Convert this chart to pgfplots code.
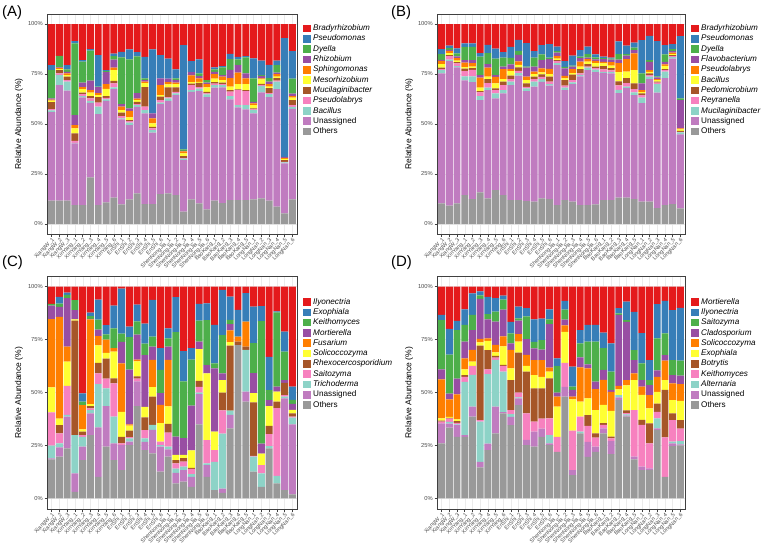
\documentclass[border=0pt]{standalone}
\usepackage{fontspec}
\setmainfont{Liberation Sans}
\usepackage{pgfplots}
\usepackage{pgfplotstable}
\pgfplotsset{compat=1.18}

\definecolor{cR}{HTML}{E41A1C}
\definecolor{cB}{HTML}{377EB8}
\definecolor{cG}{HTML}{4DAF4A}
\definecolor{cP}{HTML}{984EA3}
\definecolor{cO}{HTML}{FF7F00}
\definecolor{cY}{HTML}{FFFF33}
\definecolor{cBr}{HTML}{A65628}
\definecolor{cPk}{HTML}{F781BF}
\definecolor{cT}{HTML}{8DD3C7}
\definecolor{cU}{HTML}{C07CC0}
\definecolor{cOt}{HTML}{999999}

\pgfplotsset{
  samplelabels/.style={xticklabels={XiangW\_1,XiangW\_2,XiangW\_3,XinYang\_1,XinYang\_2,XinYang\_3,XinYang\_4,XinYang\_5,XinYang\_6,EnShi\_1,EnShi\_2,EnShi\_3,EnShi\_4,EnShi\_5,EnShi\_6,ShenNongJia\_1,ShenNongJia\_2,ShenNongJia\_3,ShenNongJia\_4,ShenNongJia\_5,ShenNongJia\_6,BaoKang\_1,BaoKang\_2,BaoKang\_3,BaoKang\_4,BaoKang\_5,LongNan\_1,LongNan\_2,LongNan\_3,LongNan\_4,LongNan\_5,LongNan\_6}},
  bl/.style={fill=#1, draw=none, legend image code/.code={\fill[##1] (0bp,-3.8bp) rectangle (7.8bp,3.8bp);}},
  panel/.style={
    scale only axis,
    ybar stacked, bar width=0.9,
    xmin=0.4, xmax=32.6, ymin=-5, ymax=105,
    xtick={1,...,32}, samplelabels,
    ytick={0,25,50,75,100}, yticklabels={0\%,25\%,50\%,75\%,100\%},
    tick pos=left, tick align=outside, major tick length=2.5bp,
    axis line style={draw=black!75, line width=0.6bp},
    tick style={draw=black!75, line width=0.5bp},
    grid=major, grid style={draw=black!8, line width=0.4bp},
    xticklabel style={rotate=45, anchor=north east, font=\fontsize{5.6}{5.8}\selectfont, text=black!70, inner sep=0.6bp},
    yticklabel style={font=\fontsize{5.8}{6}\selectfont, text=black!70, inner sep=1.5bp},
    ylabel={Relative Abundance (\%)},
    ylabel style={font=\fontsize{8.5}{9}\selectfont},
    legend cell align=left, reverse legend,
    legend image code/.code={\fill[#1] (0bp,-3.8bp) rectangle (7.8bp,3.8bp);},
    legend style={draw=none, fill=none, at={(1,1)}, anchor=north west,
      xshift=5.7bp, yshift=-9.9bp, inner sep=0pt, row sep=1.5bp,
      font=\fontsize{8.2}{9}\selectfont,
      nodes={inner sep=0.5bp, text height=6bp, text depth=1.8bp},
      /tikz/every odd column/.append style={column sep=2bp}},
  }
}

% Panel A: x ot un Bacillus Pseudolabrys Mucilaginibacter Mesorhizobium Sphingomonas Rhizobium Dyella Pseudomonas Bradyrhizobium
\pgfplotstableread{
x ot un g9 g8 g7 g6 g5 g4 g3 g2 g1
1 11.7 44.3 0.8 0.7 3.5 0.7 0.5 0.6 14.2 2.5 20.5
2 11.7 57.8 5.0 0.8 1.7 0.5 0.5 0.3 5.8 0 15.9
3 11.7 55.0 4.5 0.8 1.7 0.8 0.8 0.8 1.2 2.2 20.5
4 9.5 30.8 0.3 1.0 3.7 2.5 1.7 5.0 35.8 1.2 8.5
5 9.5 53.8 0.7 1.0 0.7 1.7 1.0 2.3 10.5 0.8 18.0
6 23.3 37.3 1.0 1.2 1.2 1.7 1.3 4.7 15.0 0.7 12.6
7 9.5 45.5 3.7 2.0 2.7 1.0 1.0 3.0 0.3 15.8 15.5
8 10.8 50.8 0.7 0.8 0.8 3.7 2.3 6.0 0.5 0.5 23.1
9 13.2 54.3 0.8 2.0 1.3 5.3 1.3 4.0 1.7 1.3 14.8
10 9.8 42.5 0.5 1.2 1.7 1.3 1.7 1.3 23.3 2.8 13.9
11 12.3 37.2 1.2 0.8 0.5 1.3 3.3 1.2 24.5 5.0 12.7
12 15.3 43.3 0.8 0.5 1.2 0.8 0.8 2.8 18.3 2.2 14.0
13 10.0 45.3 1.7 1.7 9.7 2.0 0.8 0.8 0.8 10.8 16.4
14 10.0 35.7 1.3 0.8 0.8 1.7 2.5 2.5 0 32.0 12.7
15 14.9 45.0 0.8 1.3 1.7 0.8 5.0 3.3 0 11.7 15.5
16 15.3 46.3 1.2 0.5 5.0 1.5 1.2 1.7 0 10.0 17.3
17 14.5 50.0 0.8 0.8 2.2 1.7 0.7 1.3 0.8 4.5 22.7
18 6.2 25.7 0.8 0.3 1.0 1.3 1.0 0.3 0.7 52.2 10.5
19 12.3 53.8 0.8 2.5 0.8 0.8 3.3 1.7 0 5.5 18.5
20 10.3 56.1 1.3 0.7 2.2 0.5 1.7 1.2 1.3 7.0 17.7
21 7.3 56.2 1.3 0.5 0.8 2.2 1.7 0.7 1.3 0 28.0
22 11.7 56.5 1.2 0.8 0.8 1.7 2.2 1.2 1.2 1.0 21.7
23 10.5 57.8 1.2 0.5 0.7 1.3 1.7 0.8 3.8 0.7 21.0
24 12.0 50.3 1.7 2.2 0.8 1.7 4.2 4.2 5.3 2.7 14.9
25 12.0 46.3 1.2 7.5 0.3 2.7 5.7 3.8 2.8 1.3 16.4
26 12.0 45.3 2.2 7.0 0.5 3.0 2.8 2.5 8.0 0.7 16.0
27 12.3 43.0 1.7 0.3 0.5 1.7 0.8 0.8 11.7 10.0 17.2
28 12.8 53.0 3.3 0.5 0.5 2.2 0.5 1.2 0.5 7.2 18.3
29 11.7 51.7 1.5 0.5 2.5 0.8 1.3 1.2 1.7 6.7 20.4
30 8.7 58.7 3.8 0.5 1.3 0.7 1.3 0.7 3.8 2.2 18.3
31 5.3 25.0 0.5 0.3 0.8 0.7 0.5 0.5 0 59.3 7.1
32 12.3 45.3 1.0 0.8 2.5 1.3 0.7 1.3 7.5 13.8 13.5
}\tabA

% Panel B: x ot un Mucilaginibacter Reyranella Pedomicrobium Bacillus Pseudolabrys Flavobacterium Dyella Pseudomonas Bradyrhizobium
\pgfplotstableread{
x ot un g9 g8 g7 g6 g5 g4 g3 g2 g1
1 10.3 65.0 1.7 0.5 0.7 1.7 1.7 0.5 2.8 2.5 12.6
2 9.2 72.2 0.8 1.7 0.5 1.0 1.2 0.5 0.8 1.3 10.8
3 10.3 68.0 0.7 1.3 0.7 0.7 1.3 0.8 1.5 2.5 12.2
4 14.5 57.3 2.0 2.7 1.2 0.8 2.2 1.2 6.7 1.7 9.7
5 12.5 58.5 2.8 3.3 0.8 0.8 1.7 1.5 6.7 1.7 9.7
6 15.8 46.2 2.0 1.8 0.7 1.7 5.0 1.3 9.2 1.7 14.6
7 12.8 54.2 1.2 2.2 2.0 1.3 4.5 1.7 5.5 4.2 10.4
8 17.0 45.8 2.5 1.7 0.8 2.5 3.3 0.8 8.3 5.0 12.3
9 14.5 50.8 1.7 2.5 1.7 1.3 5.0 1.2 4.5 2.7 14.1
10 12.0 57.5 1.7 1.3 1.7 2.3 1.0 2.3 3.3 5.5 11.4
11 12.0 62.2 1.2 1.2 1.7 1.3 1.7 3.3 2.0 5.5 7.9
12 11.5 55.0 1.3 0.8 1.7 1.7 1.7 4.5 0.5 11.7 9.6
13 11.2 57.5 2.5 1.3 1.2 1.2 1.3 2.5 4.5 3.3 13.5
14 12.8 58.3 1.3 1.2 1.2 1.0 2.0 4.2 2.8 4.7 10.5
15 12.5 56.7 0.7 1.3 2.5 1.2 2.7 4.8 0.8 6.7 10.1
16 9.5 70.0 1.0 1.0 0.5 0.7 1.3 1.7 0.8 2.2 11.3
17 12.0 55.0 1.2 1.0 2.8 0.8 1.3 3.7 0.8 2.8 18.6
18 11.2 58.8 0.8 1.2 2.7 0.7 2.0 1.3 0.5 5.0 15.8
19 9.5 64.3 0.8 0.7 2.2 1.2 2.5 1.7 0.8 3.3 13.0
20 9.5 67.5 1.2 0.5 1.2 1.3 1.3 0.7 1.7 3.8 11.3
21 9.8 66.2 1.2 0.8 0.7 1.7 1.2 0.7 1.0 1.5 15.2
22 12.0 63.6 0.5 1.2 1.7 1.3 0.8 1.3 0.5 0.8 16.3
23 12.0 63.3 0.8 0.7 1.2 1.2 1.7 1.3 0.5 0.5 16.8
24 13.2 52.2 1.7 2.2 2.0 4.7 4.5 1.7 2.8 6.3 8.7
25 13.2 54.8 0.7 1.7 2.5 3.3 6.3 1.7 0.7 4.3 10.8
26 12.5 52.0 1.3 1.7 2.8 6.7 8.3 1.7 1.2 2.5 9.3
27 11.2 49.2 2.8 1.3 0.8 0.7 1.0 3.3 5.0 16.7 8.0
28 11.2 61.3 1.2 0.8 0.8 0.8 0.8 4.2 0.8 12.2 5.9
29 8.0 57.7 4.2 0.8 0.5 0.8 0.5 0.8 0.5 17.7 8.5
30 9.5 63.4 3.3 0.7 0.5 1.7 0.7 1.3 3.7 4.7 10.5
31 10.0 72.7 0.8 0.5 0.5 0.5 0.7 0.8 1.0 2.5 10.0
32 7.8 37.0 1.0 0.3 0.5 0.7 0.5 14.2 0.8 31.2 6.0
}\tabB

% Panel C: x ot un Trichoderma Saitozyma Rhexocercosporidium Solicoccozyma Fusarium Mortierella Keithomyces Exophiala Ilyonectria
\pgfplotstableread{
x ot un g9 g8 g7 g6 g5 g4 g3 g2 g1
1 18.4 0.5 6.0 15.7 0 11.8 32.3 6.3 0.8 0 8.2
2 19.7 4.4 1.9 4.7 3.9 3.1 48.0 4.7 1.6 3.1 4.9
3 23.6 15.0 0.8 13.7 0 11.5 7.1 22.8 1.6 1.1 2.8
4 3.1 8.7 18.1 0 54.0 0.6 0 4.4 4.7 0 6.4
5 18.1 6.3 4.7 0.8 1.6 1.1 11.5 0 1.6 3.9 50.4
6 29.9 10.2 1.6 0.8 1.1 0.9 40.0 0.3 1.3 1.6 12.3
7 10.2 23.3 20.5 5.0 5.0 8.3 4.3 3.1 4.7 9.4 6.2
8 24.4 19.2 8.3 4.7 9.4 2.7 6.3 0 2.5 4.3 18.2
9 18.1 7.9 12.6 15.7 2.4 12.6 1.6 0 9.4 10.7 9.0
10 13.4 11.8 0 0.8 3.1 11.8 22.8 10.2 3.9 21.3 0.9
11 25.2 1.6 1.6 0.5 3.1 2.4 0.5 25.9 15.3 5.0 18.9
12 43.6 11.6 0 1.3 1.1 7.1 0.8 11.8 6.3 7.9 8.5
13 22.8 3.9 1.6 3.9 6.0 5.0 0 24.4 5.5 9.4 17.5
14 21.3 11.0 2.4 0 13.4 4.4 12.9 6.3 4.7 17.3 6.3
15 12.6 11.8 0.8 1.6 0 8.7 8.7 5.5 11.0 10.2 29.1
16 19.7 3.5 1.3 6.6 4.1 8.2 22.0 6.3 3.9 4.7 19.7
17 7.1 5.0 2.0 2.4 1.6 2.4 0 8.7 49.3 16.5 5.0
18 7.9 5.5 1.6 2.4 1.6 1.6 0 7.9 26.8 14.2 30.5
19 5.5 4.7 1.3 2.4 0.5 8.3 0 21.1 21.7 5.5 29.0
20 35.0 14.2 0.8 2.7 2.8 15.0 0 3.5 9.9 7.9 8.2
21 10.2 5.5 0.8 11.0 0 31.5 0 3.9 21.3 7.9 7.9
22 3.9 0 13.4 5.5 0 8.7 0 29.9 2.4 18.1 18.1
23 2.6 2.0 26.0 11.0 8.3 6.0 0 3.1 18.1 21.3 1.6
24 33.1 6.3 2.0 0 30.7 1.7 5.5 3.0 2.0 11.0 4.7
25 72.4 0 0 0 1.6 0 2.4 0 0 12.6 11.0
26 45.7 4.7 19.7 0 1.6 0 11.8 0 0 13.4 3.1
27 12.6 0 7.1 0.4 25.2 4.4 0 9.4 14.2 17.3 9.4
28 5.5 0 6.3 3.9 0 5.5 0 4.7 57.8 7.1 9.2
29 23.6 0 1.1 5.7 3.8 9.4 0 2.8 4.7 15.7 33.2
30 7.1 0 3.5 32.0 3.1 4.7 0 2.4 35.0 0.5 11.7
31 3.9 43.3 0.8 0.8 5.8 0 0 1.3 13.4 9.4 21.3
32 1.9 33.1 3.1 0.5 1.6 1.6 0 2.8 1.9 6.3 47.2
}\tabC

% Panel D: x ot un Alternaria Keithomyces Botrytis Exophiala Solicoccozyma Cladosporium Saitozyma Ilyonectria Mortierella
\pgfplotstableread{
x ot un g9 g8 g7 g6 g5 g4 g3 g2 g1
1 26.0 9.4 0 0.8 0.5 1.1 18.4 4.7 23.3 2.4 13.4
2 33.4 1.9 0.8 1.6 0.3 0.5 8.2 2.8 18.4 12.1 20.0
3 29.1 5.5 0.3 0.8 0.8 0.8 11.8 7.4 23.0 4.3 16.2
4 29.1 0.8 25.1 2.4 0.8 2.7 5.2 7.9 7.9 7.4 10.7
5 38.6 4.7 15.0 4.3 0 2.0 5.5 9.4 7.1 10.2 3.2
6 14.6 2.7 18.9 0.8 35.1 1.6 1.6 18.9 1.6 2.0 2.2
7 22.8 3.1 32.8 2.2 9.1 4.4 1.1 9.0 2.5 8.2 4.8
8 30.7 12.6 22.1 1.1 0.8 1.6 3.6 11.0 4.7 6.3 5.5
9 40.2 0.5 19.1 2.8 0.5 8.7 4.7 12.6 4.7 1.9 4.3
10 34.6 3.9 1.3 1.9 14.2 5.5 8.7 3.1 4.7 5.5 16.6
11 44.1 3.1 0.5 2.2 18.9 5.2 3.6 6.3 1.1 5.5 9.5
12 25.2 2.4 0 12.6 19.7 2.7 5.2 7.4 10.7 3.9 10.2
13 24.4 7.1 0 4.7 15.7 6.3 7.1 5.5 3.1 10.6 15.5
14 29.1 3.9 0 4.7 14.2 5.5 7.9 5.0 4.4 10.2 15.1
15 25.2 0.8 3.9 7.9 18.9 3.1 2.0 20.5 2.2 4.7 10.8
16 22.0 0 0 7.1 0 14.2 4.7 1.9 12.6 3.6 33.9
17 48.0 4.7 0 11.3 0 14.6 3.1 2.7 4.7 4.1 6.8
18 11.0 2.4 0 18.6 0 14.8 1.3 3.1 1.6 9.4 37.8
19 30.7 0 0.8 7.1 0 7.1 16.2 4.7 6.6 6.3 20.5
20 19.6 7.1 0 7.6 5.0 7.9 14.2 1.9 10.7 7.9 18.1
21 22.0 2.4 0 4.3 2.0 11.0 9.9 3.5 18.9 7.9 18.1
22 30.7 2.4 0 1.6 0.8 8.7 11.8 4.7 10.2 7.4 21.7
23 20.9 6.3 0 1.1 0.9 12.1 9.0 0.8 8.7 13.4 26.8
24 46.4 1.3 1.1 0 0 2.7 1.6 33.5 0.8 2.4 10.2
25 38.6 0.5 0.6 0.6 1.3 11.8 2.4 27.6 0.8 8.7 7.1
26 18.4 1.3 0 22.0 0 14.2 3.1 6.3 4.7 18.1 11.9
27 13.4 1.6 0 19.7 2.4 11.8 3.9 3.1 7.9 14.2 22.0
28 13.4 0.8 0 11.8 9.4 7.1 6.3 4.7 2.4 9.4 34.7
29 32.3 0.8 4.7 3.1 3.9 5.5 7.1 3.1 15.0 16.2 8.3
30 10.2 0 0 18.6 22.4 4.7 9.1 2.7 10.2 15.4 6.7
31 24.7 1.3 0.8 10.2 3.1 6.3 7.9 3.9 7.1 23.6 11.1
32 25.0 0.5 1.5 6.0 4.0 9.0 8.0 4.0 7.0 25.0 10.0
}\tabD

\begin{document}
\begin{tikzpicture}
\useasboundingbox (0,0) rectangle (767bp,-546bp);

% ---------- (A)
\begin{axis}[panel, width=250bp, height=220bp, at={(47bp,-14bp)}, anchor=north west]
\addplot[bl=cOt] table[x=x,y=ot]{\tabA}; \addlegendentry{Others}
\addplot[bl=cU] table[x=x,y=un]{\tabA}; \addlegendentry{Unassigned}
\addplot[bl=cT] table[x=x,y=g9]{\tabA}; \addlegendentry{\textit{Bacillus}}
\addplot[bl=cPk] table[x=x,y=g8]{\tabA}; \addlegendentry{\textit{Pseudolabrys}}
\addplot[bl=cBr] table[x=x,y=g7]{\tabA}; \addlegendentry{\textit{Mucilaginibacter}}
\addplot[bl=cY] table[x=x,y=g6]{\tabA}; \addlegendentry{\textit{Mesorhizobium}}
\addplot[bl=cO] table[x=x,y=g5]{\tabA}; \addlegendentry{\textit{Sphingomonas}}
\addplot[bl=cP] table[x=x,y=g4]{\tabA}; \addlegendentry{\textit{Rhizobium}}
\addplot[bl=cG] table[x=x,y=g3]{\tabA}; \addlegendentry{\textit{Dyella}}
\addplot[bl=cB] table[x=x,y=g2]{\tabA}; \addlegendentry{\textit{Pseudomonas}}
\addplot[bl=cR] table[x=x,y=g1]{\tabA}; \addlegendentry{\textit{Bradyrhizobium}}
\end{axis}

% ---------- (B)
\begin{axis}[panel, width=248bp, height=220bp, at={(437bp,-14bp)}, anchor=north west]
\addplot[bl=cOt] table[x=x,y=ot]{\tabB}; \addlegendentry{Others}
\addplot[bl=cU] table[x=x,y=un]{\tabB}; \addlegendentry{Unassigned}
\addplot[bl=cT] table[x=x,y=g9]{\tabB}; \addlegendentry{\textit{Mucilaginibacter}}
\addplot[bl=cPk] table[x=x,y=g8]{\tabB}; \addlegendentry{\textit{Reyranella}}
\addplot[bl=cBr] table[x=x,y=g7]{\tabB}; \addlegendentry{\textit{Pedomicrobium}}
\addplot[bl=cY] table[x=x,y=g6]{\tabB}; \addlegendentry{\textit{Bacillus}}
\addplot[bl=cO] table[x=x,y=g5]{\tabB}; \addlegendentry{\textit{Pseudolabrys}}
\addplot[bl=cP] table[x=x,y=g4]{\tabB}; \addlegendentry{\textit{Flavobacterium}}
\addplot[bl=cG] table[x=x,y=g3]{\tabB}; \addlegendentry{\textit{Dyella}}
\addplot[bl=cB] table[x=x,y=g2]{\tabB}; \addlegendentry{\textit{Pseudomonas}}
\addplot[bl=cR] table[x=x,y=g1]{\tabB}; \addlegendentry{\textit{Bradyrhizobium}}
\end{axis}

% ---------- (C)
\begin{axis}[panel, width=250bp, height=233bp, at={(47bp,-276bp)}, anchor=north west, legend style={yshift=-11.5bp}]
\addplot[bl=cOt] table[x=x,y=ot]{\tabC}; \addlegendentry{Others}
\addplot[bl=cU] table[x=x,y=un]{\tabC}; \addlegendentry{Unassigned}
\addplot[bl=cT] table[x=x,y=g9]{\tabC}; \addlegendentry{\textit{Trichoderma}}
\addplot[bl=cPk] table[x=x,y=g8]{\tabC}; \addlegendentry{\textit{Saitozyma}}
\addplot[bl=cBr] table[x=x,y=g7]{\tabC}; \addlegendentry{\textit{Rhexocercosporidium}}
\addplot[bl=cY] table[x=x,y=g6]{\tabC}; \addlegendentry{\textit{Solicoccozyma}}
\addplot[bl=cO] table[x=x,y=g5]{\tabC}; \addlegendentry{\textit{Fusarium}}
\addplot[bl=cP] table[x=x,y=g4]{\tabC}; \addlegendentry{\textit{Mortierella}}
\addplot[bl=cG] table[x=x,y=g3]{\tabC}; \addlegendentry{\textit{Keithomyces}}
\addplot[bl=cB] table[x=x,y=g2]{\tabC}; \addlegendentry{\textit{Exophiala}}
\addplot[bl=cR] table[x=x,y=g1]{\tabC}; \addlegendentry{\textit{Ilyonectria}}
\end{axis}

% ---------- (D)
\begin{axis}[panel, width=248bp, height=233bp, at={(437bp,-276bp)}, anchor=north west, legend style={yshift=-11.5bp}]
\addplot[bl=cOt] table[x=x,y=ot]{\tabD}; \addlegendentry{Others}
\addplot[bl=cU] table[x=x,y=un]{\tabD}; \addlegendentry{Unassigned}
\addplot[bl=cT] table[x=x,y=g9]{\tabD}; \addlegendentry{\textit{Alternaria}}
\addplot[bl=cPk] table[x=x,y=g8]{\tabD}; \addlegendentry{\textit{Keithomyces}}
\addplot[bl=cBr] table[x=x,y=g7]{\tabD}; \addlegendentry{\textit{Botrytis}}
\addplot[bl=cY] table[x=x,y=g6]{\tabD}; \addlegendentry{\textit{Exophiala}}
\addplot[bl=cO] table[x=x,y=g5]{\tabD}; \addlegendentry{\textit{Solicoccozyma}}
\addplot[bl=cP] table[x=x,y=g4]{\tabD}; \addlegendentry{\textit{Cladosporium}}
\addplot[bl=cG] table[x=x,y=g3]{\tabD}; \addlegendentry{\textit{Saitozyma}}
\addplot[bl=cB] table[x=x,y=g2]{\tabD}; \addlegendentry{\textit{Ilyonectria}}
\addplot[bl=cR] table[x=x,y=g1]{\tabD}; \addlegendentry{\textit{Mortierella}}
\end{axis}

\node[anchor=west, font=\fontsize{15}{15}\selectfont, inner sep=0pt] at (2bp,-13bp) {(A)};
\node[anchor=west, font=\fontsize{15}{15}\selectfont, inner sep=0pt] at (391bp,-13bp) {(B)};
\node[anchor=west, font=\fontsize{15}{15}\selectfont, inner sep=0pt] at (2bp,-263bp) {(C)};
\node[anchor=west, font=\fontsize{15}{15}\selectfont, inner sep=0pt] at (391bp,-263bp) {(D)};
\end{tikzpicture}
\end{document}
